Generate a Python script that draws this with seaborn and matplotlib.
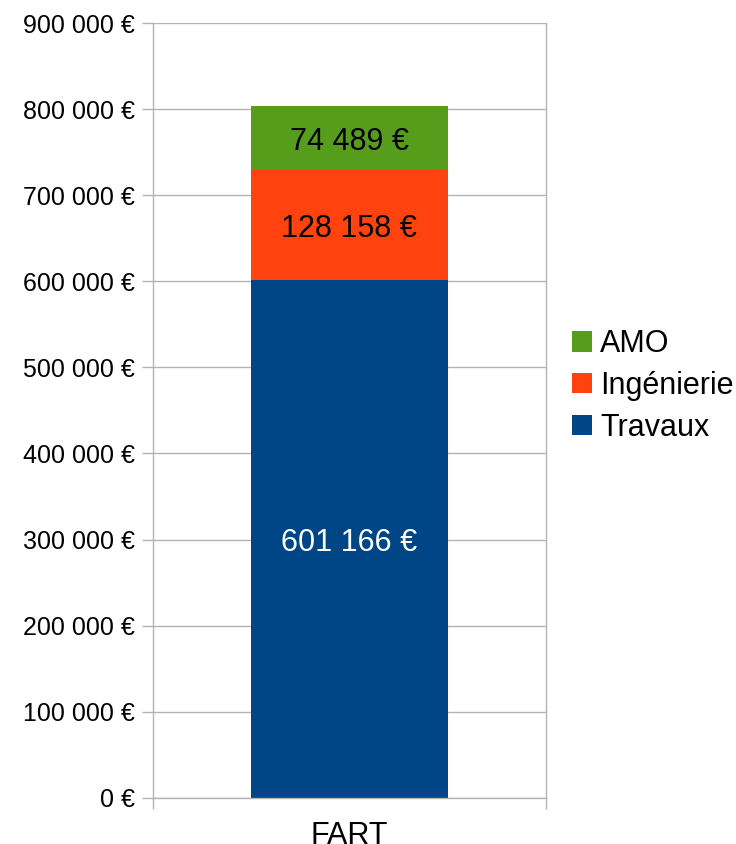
import matplotlib
matplotlib.use("Agg")
import matplotlib.pyplot as plt
import seaborn as sns
from matplotlib.ticker import FuncFormatter

# data
categories = ["FART"]
series = ["Travaux", "Ingénierie", "AMO"]
travaux = [601166]
ingenierie = [128158]
amo = [74489]
colors = {"Travaux": "#004586", "Ingénierie": "#ff420e", "AMO": "#579d1c"}
label_colors = {"Travaux": "white", "Ingénierie": "black", "AMO": "black"}

sns.set_style("white")
plt.rcParams["font.family"] = ["Liberation Sans", "DejaVu Sans"]
plt.rcParams["text.color"] = "black"
plt.rcParams["xtick.color"] = "black"
plt.rcParams["ytick.color"] = "black"

fig = plt.figure(figsize=(7.36, 8.44), dpi=100)
ax = fig.add_axes([0.2079, 0.0549, 0.5335, 0.9175])

values = {"Travaux": travaux, "Ingénierie": ingenierie, "AMO": amo}

# cumulative tops, drawn tallest first so lower segments sit on top
tops = {}
running = [0] * len(categories)
bottoms = {}
for s in series:
    bottoms[s] = list(running)
    running = [r + v for r, v in zip(running, values[s])]
    tops[s] = list(running)

for s in reversed(series):
    sns.barplot(x=categories, y=tops[s], color=colors[s], width=0.5,
                saturation=1, linewidth=0, ax=ax, label=s)

# value labels centred in each segment
for s in series:
    for i, cat in enumerate(categories):
        mid = bottoms[s][i] + values[s][i] / 2
        txt = f"{values[s][i]:,}".replace(",", " ") + " €"
        ax.text(i, mid, txt, ha="center", va="center_baseline", fontsize=22,
                color=label_colors[s])

ax.set_xlim(-0.5, len(categories) - 0.5)
ax.set_ylim(0, 900000)
ax.set_yticks(range(0, 900001, 100000))
ax.yaxis.set_major_formatter(FuncFormatter(lambda v, p: f"{int(v):,}".replace(",", " ") + " €"))
ax.yaxis.grid(True, color="#b3b3b3", linewidth=1)
ax.set_axisbelow(True)
ax.set_xlabel("")
ax.set_ylabel("")

ax.set_xticks(range(len(categories)))
ax.set_xticklabels(categories)
ax.set_xticks([-0.5 + k for k in range(len(categories) + 1)], minor=True)
ax.tick_params(axis="x", which="major", bottom=True, length=0, pad=17, labelsize=22)
ax.tick_params(axis="x", which="minor", bottom=True, length=8, color="#b3b3b3", width=1, direction="out")
ax.tick_params(axis="y", left=True, length=8, color="#b3b3b3", width=1, pad=5,
               labelsize=18, labelcolor="black", direction="out")

for sp in ax.spines.values():
    sp.set_color("#b3b3b3")
    sp.set_linewidth(1)
ax.spines["top"].set_visible(False)

handles, labels = ax.get_legend_handles_labels()
if ax.get_legend() is not None:
    ax.get_legend().remove()
order = [labels.index(s) for s in reversed(series)]
fig.legend([handles[k] for k in order], [labels[k] for k in order],
           loc="center left", bbox_to_anchor=(572 / 736, 1 - 386 / 844),
           frameon=False, fontsize=22, handlelength=0.65, handleheight=0.65,
           handletextpad=0.27, labelspacing=0.38, borderpad=0, borderaxespad=0,
           labelcolor="black")

fig.savefig("out.png", dpi=100)
